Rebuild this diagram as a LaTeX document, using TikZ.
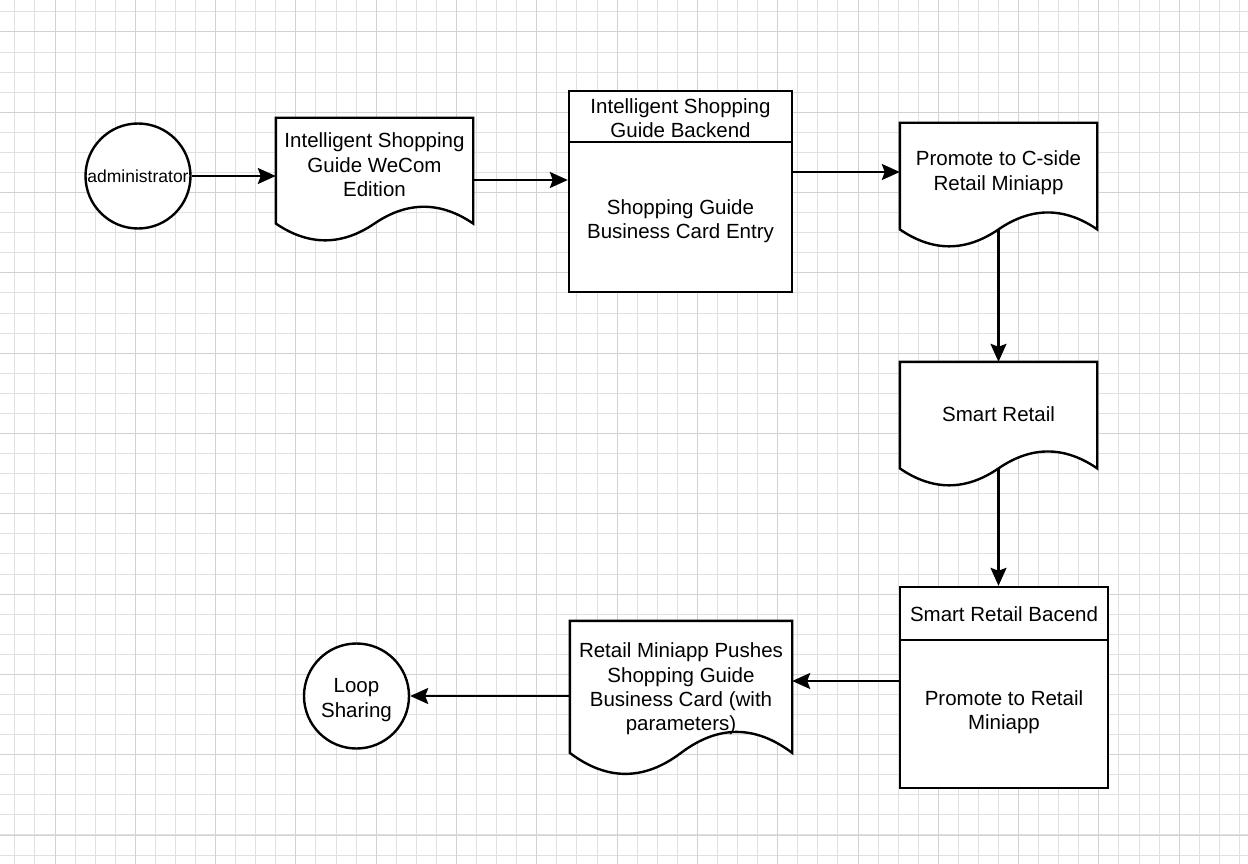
\documentclass[tikz,border=0pt]{standalone}
\usepackage{fontspec}
\setmainfont{Liberation Sans}
\usetikzlibrary{arrows.meta,calc}
\definecolor{gminorc}{HTML}{E0E0E0}
\definecolor{gmajorc}{HTML}{D2D2D2}
\tikzset{
  gminor/.style={draw=gminorc,line width=1pt},
  gmajor/.style={draw=gmajorc,line width=1pt},
  shapeline/.style={draw=black,line width=2.4pt,fill=white,line join=miter},
  docbox/.style={draw=none,inner sep=0pt,rectangle},
  lanebox/.style={shapeline,inner sep=0pt,rectangle},
  circbox/.style={shapeline,circle,inner sep=0pt,minimum size=105pt},
  txt/.style={font=\fontsize{20.5}{24.2}\selectfont,align=center,inner sep=0pt},
  arr/.style={draw=black,line width=2.2pt,-{Stealth[length=18pt,width=16pt,inset=3pt]}}
}
\newcommand\docoutline[1]{%
\draw[shapeline] let \p1=(#1.north west), \p2=(#1.south east), \n1={\x2-\x1}, \n2={\y1-\y2} in
 (\x1,\y1) -- (\x2,\y1) -- (\x2,\y1-0.85*\n2)
 .. controls (\x1+0.8333*\n1,\y1-0.67*\n2) and (\x1+0.6667*\n1,\y1-0.67*\n2) .. (\x1+0.5*\n1,\y1-0.85*\n2)
 .. controls (\x1+0.3333*\n1,\y1-1.03*\n2) and (\x1+0.1667*\n1,\y1-1.03*\n2) .. (\x1,\y1-0.85*\n2) -- cycle;}
\begin{document}
\begin{tikzpicture}[x=1pt,y=-1pt]
\useasboundingbox (0,0) rectangle (1248,864);
\fill[white] (0,0) rectangle (1248,864);
% grid
\foreach \i in {0,...,62} {\draw[gminor] ({14.85+20.075*\i},0) -- ({14.85+20.075*\i},864);}
\foreach \i in {0,...,43} {\draw[gminor] (0,{11.9+20.075*\i}) -- (1248,{11.9+20.075*\i});}
\foreach \i in {0,...,15} {\draw[gmajor] ({55+80.3*\i},0) -- ({55+80.3*\i},864);}
\foreach \i in {0,...,10} {\draw[gmajor] (0,{32+80.3*\i}) -- (1248,{32+80.3*\i});}

% administrator
\node[circbox] (admin) at (138,176) {};
\node[txt,font=\fontsize{17.5}{21}\selectfont] (admint) at (admin.center) {administrator};

% doc 1
\node[docbox,minimum width=197pt,minimum height=124pt] (d1) at (374.5,180) {};
\docoutline{d1}
\node[txt] (d1t) at ($(d1.north)+(0,47)$) {Intelligent Shopping\\Guide WeCom\\Edition};

% backend lane
\node[lanebox,minimum width=223pt,minimum height=201pt] (b1) at (680.5,191.5) {};
\draw[shapeline] ($(b1.north west)+(0,52)$) coordinate (b1h) -- (b1h -| b1.east);
\node[txt] (b1t) at ($(b1.north)+(0,28)$) {Intelligent Shopping\\Guide Backend};
\node[txt] (b1b) at ($(b1.north)+(0,131)$) {Shopping Guide\\Business Card Entry};

% doc 2
\node[docbox,minimum width=197pt,minimum height=125pt] (d2) at (998.5,185.5) {};
\docoutline{d2}
\node[txt] (d2t) at ($(d2.north)+(0,50)$) {Promote to C-side\\Retail Miniapp};

% doc 3
\node[docbox,minimum width=197pt,minimum height=125pt] (d3) at (998.5,424.5) {};
\docoutline{d3}
\node[txt] (d3t) at ($(d3.north)+(0,52)$) {Smart Retail};

% smart retail lane
\node[lanebox,minimum width=208pt,minimum height=201pt] (s2) at (1004,687.5) {};
\draw[shapeline] ($(s2.north west)+(0,54)$) coordinate (s2h) -- (s2h -| s2.east);
\node[txt] (s2t) at ($(s2.north)+(0,28)$) {Smart Retail Bacend};
\node[txt] (s2b) at ($(s2.north)+(0,126)$) {Promote to Retail\\Miniapp};

% doc 4
\node[docbox,minimum width=222pt,minimum height=155pt] (d4) at (681,698.5) {};
\docoutline{d4}
\node[txt] (d4t) at ($(d4.north)+(0,68)$) {Retail Miniapp Pushes\\Shopping Guide\\Business Card (with\\parameters)};

% loop
\node[circbox] (loop) at (356.5,696) {};
\node[txt] (loopt) at ($(loop.center)+(0,4)$) {Loop\\Sharing};

% connectors
\draw[arr] (admin.east) -- (admin.east -| d1.west);
\draw[arr] (d1.east) -- (d1.east -| b1.west);
\draw[arr] ([yshift=19.5pt]b1.east) coordinate (c3) -- (c3 -| d2.west);
\draw[arr] ($(d2.north)!0.85!(d2.south)$) -- (d3.north);
\draw[arr] ($(d3.north)!0.85!(d3.south)$) coordinate (c5) -- (c5 |- s2.north);
\draw[arr] ([yshift=6.5pt]s2.west) coordinate (c6) -- (c6 -| d4.east);
\draw[arr] (d4.west |- loop.east) -- (loop.east);
\end{tikzpicture}
\end{document}
